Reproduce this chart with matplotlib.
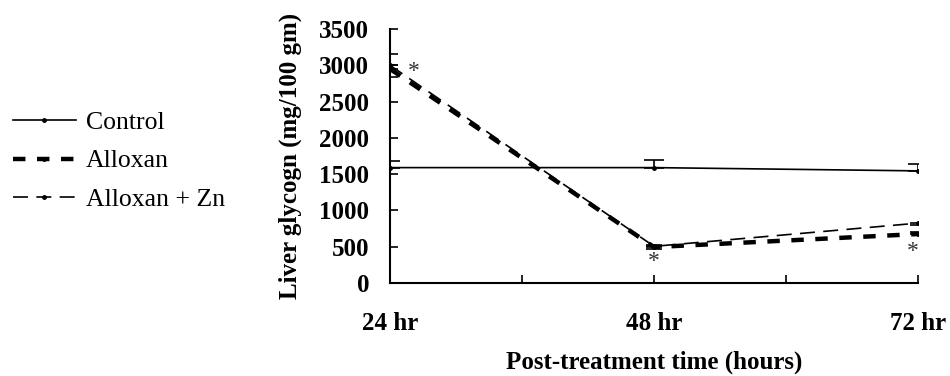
import numpy as np
from matplotlib import pyplot as plt
from matplotlib.lines import Line2D

plt.rcParams['font.family'] = ['Liberation Serif', 'DejaVu Serif']

# Data
times = ["24 hr", "48 hr", "72 hr"]
control = [1590, 1590, 1545]
control_err = [90, 110, 95]
alloxan = [2950, 495, 675]
alloxan_err = [200, 30, 30]
alloxan_zn = [3000, 505, 825]
alloxan_zn_err = [160, 30, 30]

# (x index, y value) of the significance stars
stars_x = [0.09, 1.0, 1.98]
stars_y = [2910, 300, 430]

x = np.arange(len(times))

fig = plt.figure(figsize=(9.5, 3.76), dpi=100)
ax = fig.add_axes([390/950, 1 - 283/376, (918 - 390)/950, (283 - 29)/376])

styles = [
    dict(lw=1.2, ls='-'),
    dict(lw=3.2, dashes=(2.8, 2.6)),
    dict(lw=1.2, dashes=(9, 5)),
]

ax.errorbar(x, control, yerr=[np.zeros(3), control_err], color='black',
            marker='o', ms=2.5, capsize=7, capthick=1.2, elinewidth=1.2, **styles[0])
ax.errorbar(x, alloxan, yerr=[np.zeros(3), alloxan_err], color='black',
            marker='o', ms=2.5, capsize=6, capthick=1.2, elinewidth=1.2, **styles[1])
ax.errorbar(x, alloxan_zn, yerr=[alloxan_zn_err, np.zeros(3)], color='black',
            marker='o', ms=2.5, capsize=6, capthick=1.2, elinewidth=1.2, **styles[2])

for sx, sy in zip(stars_x, stars_y):
    ax.text(sx, sy, '*', ha='center', va='center', fontsize=17, color='#333333')

ax.set_xlim(0, 2)
ax.set_ylim(0, 3500)
ax.set_xticks([0, 0.5, 1, 1.5, 2])
ax.set_xticklabels([times[0], '', times[1], '', times[2]], fontweight='bold', fontsize=18)
ax.set_yticks(np.arange(0, 3501, 500))
ax.set_yticklabels([str(v) for v in range(0, 3501, 500)], fontweight='bold', fontsize=18)
ax.tick_params(axis='x', direction='in', length=6, pad=21, width=1.2)
ax.tick_params(axis='y', direction='in', length=6, pad=15, width=1.2)
ax.spines['top'].set_visible(False)
ax.spines['right'].set_visible(False)
ax.spines['left'].set_linewidth(1.5)
ax.spines['bottom'].set_linewidth(1.5)

ax.set_ylabel('Liver glycogn (mg/100 gm)', fontweight='bold', fontsize=18)
ax.yaxis.set_label_coords((302 - 390) / 528, 0.5)
ax.set_xlabel('Post-treatment time (hours)', fontweight='bold', fontsize=18)
ax.xaxis.set_label_coords(0.5, (283 - 351) / 254)

labels = ['Control', 'Alloxan', 'Alloxan + Zn']
handles = [Line2D([], [], color='black', marker='o', ms=2.5, **s) for s in styles]
fig.legend(handles, labels, loc='center left', bbox_to_anchor=(0.0, 1 - 161/376),
           frameon=False, fontsize=18.5, handlelength=2.45, labelspacing=0.62,
           handletextpad=0.4, borderaxespad=0.3, borderpad=0.2)

fig.savefig('out.png', dpi=100)
